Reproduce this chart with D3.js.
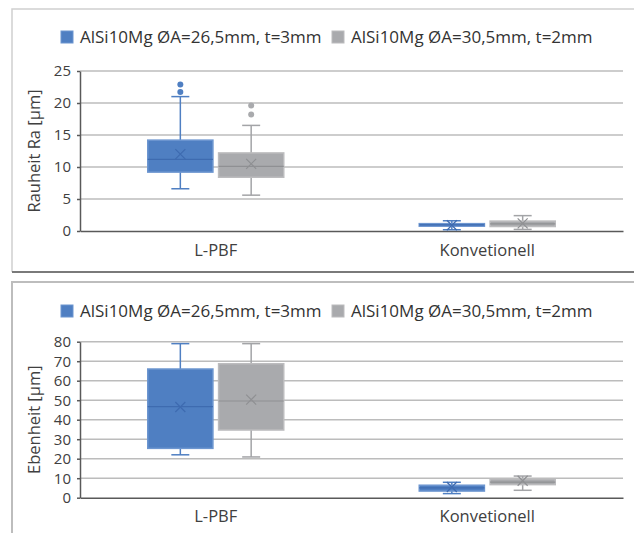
<!DOCTYPE html>
<html>
<head>
<meta charset="utf-8">
<script src="https://cdn.jsdelivr.net/npm/d3@7"></script>
<style>
  body { margin: 0; background: #fff; }
  svg { display: block; font-family: "Open Sans", sans-serif; }
</style>
</head>
<body>
<svg id="chart" width="634" height="533"></svg>
<script>
const categories = ['L-PBF', 'Konvetionell'];
const seriesNames = ['AlSi10Mg ØA=26,5mm, t=3mm', 'AlSi10Mg ØA=30,5mm, t=2mm'];

// top chart: Rauheit Ra [µm]  -> [min, q1, median, q3, max, mean]
const raBlue = [[6.6, 9.2, 11.2, 14.2, 21.0, 12.0], [0.2, 0.75, 0.95, 1.15, 1.6, 0.9]];
const raGray = [[5.6, 8.4, 10.1, 12.2, 16.5, 10.5], [0.25, 0.7, 1.1, 1.55, 2.4, 1.2]];
const raBlueOutliers = [[21.7, 22.9], []];
const raGrayOutliers = [[18.2, 19.6], []];
const raTicks = [0, 5, 10, 15, 20, 25];

// bottom chart: Ebenheit [µm]
const ebBlue = [[22, 25.3, 46.7, 66, 79, 46.5], [2.1, 3.4, 5.0, 6.4, 7.9, 5.5]];
const ebGray = [[20.9, 34.7, 49.6, 68.7, 79, 50.3], [3.8, 6.7, 8.0, 9.6, 11.1, 8.7]];
const ebBlueOutliers = [[], []];
const ebGrayOutliers = [[], []];
const ebTicks = [0, 10, 20, 30, 40, 50, 60, 70, 80];

const colors = {
  fill: ['#4f7fc2', '#a9aaad'],
  stroke: ['#6d96d0', '#bcbcbe'],
  line: ['#3e6bb0', '#8f9093'],
  whisker: ['#4f7fc2', '#a3a4a7']
};

const svg = d3.select('#chart');

// panel frames
svg.append('path')
  .attr('d', 'M12,272 V9 H640')
  .attr('fill', 'none').attr('stroke', '#d0d0d0').attr('stroke-width', 1.5);
svg.append('line')
  .attr('x1', 12).attr('x2', 640).attr('y1', 272).attr('y2', 272)
  .attr('stroke', '#7a7a7a').attr('stroke-width', 2);
svg.append('path')
  .attr('d', 'M12,540 V282 H640')
  .attr('fill', 'none').attr('stroke', '#bdbdbd').attr('stroke-width', 2);

function drawPanel(opt) {
  const g = svg.append('g');

  // legend
  const legend = g.append('g').attr('transform', `translate(0,${opt.legendY})`);
  const legX = [61, 332];
  seriesNames.forEach((name, i) => {
    legend.append('rect')
      .attr('x', legX[i]).attr('y', -6).attr('width', 12).attr('height', 12)
      .attr('fill', colors.fill[i]).attr('stroke', colors.stroke[i]);
    legend.append('text')
      .attr('x', legX[i] + 19).attr('y', 6)
      .attr('font-size', 17).attr('fill', '#333')
      .text(name);
  });

  const x0 = d3.scaleBand().domain(categories).range([80, 623]);
  const y = d3.scaleLinear().domain(opt.domain).range([opt.bottom, opt.top]);

  // gridlines
  g.append('g')
    .selectAll('line')
    .data(opt.ticks.slice(1))
    .join('line')
    .attr('x1', 80).attr('x2', 623)
    .attr('y1', d => y(d)).attr('y2', d => y(d))
    .attr('stroke', '#bcbcbc').attr('stroke-width', 1.5);

  // y axis
  const yAxis = g.append('g')
    .attr('transform', 'translate(80,0)')
    .call(d3.axisLeft(y).tickValues(opt.ticks).tickSize(3).tickSizeOuter(0).tickPadding(6));
  yAxis.select('.domain').attr('stroke', '#595959').attr('stroke-width', 1.5);
  yAxis.selectAll('.tick line').attr('stroke', '#595959').attr('stroke-width', 1.5);
  yAxis.selectAll('text').attr('font-size', 15).attr('fill', '#404040')
    .attr('font-family', '"Open Sans", sans-serif');

  // x axis line and category labels
  const xAxis = g.append('g')
    .attr('transform', `translate(0,${opt.bottom})`)
    .call(d3.axisBottom(x0).tickSize(0).tickSizeOuter(0).tickPadding(13));
  xAxis.select('.domain').attr('stroke', '#595959').attr('stroke-width', 1.5);
  xAxis.selectAll('text').attr('font-size', 16.5).attr('fill', '#404040')
    .attr('font-family', '"Open Sans", sans-serif');

  // y title
  g.append('text')
    .attr('transform', `translate(40,${(opt.top + opt.bottom) / 2}) rotate(-90)`)
    .attr('text-anchor', 'middle')
    .attr('font-size', 16.5).attr('fill', '#404040')
    .text(opt.title);

  // boxes
  const sets = [opt.blue, opt.gray];
  const outl = [opt.blueOut, opt.grayOut];
  categories.forEach((cat, ci) => {
    const c = x0(cat) + x0.bandwidth() / 2;
    const x1 = d3.scaleBand().domain(seriesNames).range([c - 68, c + 68]).paddingInner(0.08);
    seriesNames.forEach((s, si) => {
      const [mn, q1, med, q3, mx, mean] = sets[si][ci];
      const bx = x1(s), bw = x1.bandwidth(), cx = bx + bw / 2;
      const bg = g.append('g');
      // whiskers
      bg.append('line').attr('x1', cx).attr('x2', cx).attr('y1', y(q3)).attr('y2', y(mx))
        .attr('stroke', colors.whisker[si]).attr('stroke-width', 1.5);
      bg.append('line').attr('x1', cx).attr('x2', cx).attr('y1', y(q1)).attr('y2', y(mn))
        .attr('stroke', colors.whisker[si]).attr('stroke-width', 1.5);
      [mn, mx].forEach(v => {
        bg.append('line').attr('x1', cx - 9).attr('x2', cx + 9).attr('y1', y(v)).attr('y2', y(v))
          .attr('stroke', colors.whisker[si]).attr('stroke-width', 1.5);
      });
      // box
      bg.append('rect')
        .attr('x', bx).attr('y', y(q3)).attr('width', bw).attr('height', Math.max(y(q1) - y(q3), 1))
        .attr('fill', colors.fill[si]).attr('stroke', colors.stroke[si]).attr('stroke-width', 1.5);
      // median
      bg.append('line').attr('x1', bx).attr('x2', bx + bw).attr('y1', y(med)).attr('y2', y(med))
        .attr('stroke', colors.line[si]).attr('stroke-width', 1.2);
      // mean marker
      const my = y(mean);
      bg.append('path')
        .attr('d', `M${cx - 5},${my - 5}L${cx + 5},${my + 5}M${cx - 5},${my + 5}L${cx + 5},${my - 5}`)
        .attr('stroke', colors.line[si]).attr('stroke-width', 1.2).attr('fill', 'none');
      // outliers
      bg.selectAll('circle')
        .data(outl[si][ci])
        .join('circle')
        .attr('cx', cx).attr('cy', d => y(d)).attr('r', 3)
        .attr('fill', colors.fill[si]);
    });
  });
}

drawPanel({
  legendY: 37, top: 71, bottom: 231, domain: [0, 25], ticks: raTicks,
  title: 'Rauheit Ra [µm]',
  blue: raBlue, gray: raGray, blueOut: raBlueOutliers, grayOut: raGrayOutliers
});

drawPanel({
  legendY: 311, top: 341.7, bottom: 497.7, domain: [0, 80], ticks: ebTicks,
  title: 'Ebenheit  [µm]',
  blue: ebBlue, gray: ebGray, blueOut: ebBlueOutliers, grayOut: ebGrayOutliers
});
</script>
</body>
</html>
